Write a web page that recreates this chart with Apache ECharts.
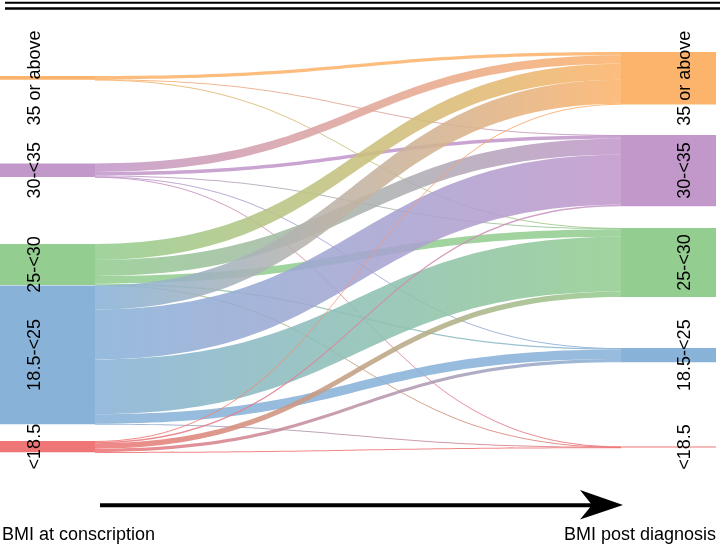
<!DOCTYPE html>
<html>
<head>
<meta charset="utf-8">
<script src="https://cdn.jsdelivr.net/npm/echarts@6/dist/echarts.min.js"></script>
<style>
  html, body { margin: 0; padding: 0; background: #fff; }
  #chart { width: 722px; height: 547px; }
</style>
</head>
<body>
<div id="chart"></div>
<script>
var groups = ['35 or above', '30-<35', '25-<30', '18.5-<25', '<18.5']
var groupColors = ['#fcb36b', '#c298cb', '#93cd90', '#88b2d8', '#ee7677']

// share of cohort (%) going from row group (conscription) to column group (post diagnosis)
var flows = [
  [1.60, 0.14, 0.10, 0, 0],
  [4.08, 1.68, 0.48, 0.19, 0.05],
  [7.68, 7.68, 3.60, 0.58, 0.14],
  [11.53, 24.02, 26.42, 4.56, 0.19],
  [0.38, 0.72, 2.64, 1.54, 0.14]
]

var axisTitles = ['BMI at conscription', 'BMI post diagnosis']

// top edge of each stratum in px, the gaps are not even in the original
var leftTops = [76, 163.5, 244, 285.5, 441]
var rightTops = [52, 135, 228, 348, 446.5]

var H = 547
var font = '"Liberation Sans", Arial, Helvetica, sans-serif'

var nodes = []
var links = []

groups.forEach(function (g, i) {
  nodes.push({
    name: 'L|' + g,
    depth: 0,
    localY: leftTops[i] / H,
    itemStyle: { color: groupColors[i] },
    label: { offset: [0, -12.5] }
  })
})
groups.forEach(function (g, i) {
  nodes.push({
    name: 'R|' + g,
    depth: 1,
    localY: rightTops[i] / H,
    itemStyle: { color: groupColors[i] },
    label: { offset: [0, 16.5] }
  })
})

flows.forEach(function (row, i) {
  row.forEach(function (v, j) {
    if (v > 0) {
      links.push({ source: 'L|' + groups[i], target: 'R|' + groups[j], value: v })
    }
  })
})

var myChart = echarts.init(document.getElementById('chart'))
var option

option = {
  animation: false,
  series: [
    {
      type: 'sankey',
      left: 0,
      right: 6,
      top: 0,
      bottom: 0,
      nodeWidth: 95,
      nodeGap: 84.7,
      layoutIterations: 0,
      draggable: false,
      emphasis: { disabled: true },
      itemStyle: { borderWidth: 0 },
      label: {
        position: 'inside',
        rotate: 90,
        color: '#000',
        fontSize: 18,
        fontFamily: font,
        formatter: function (p) { return p.name.slice(2) }
      },
      lineStyle: {
        color: 'gradient',
        opacity: 0.88,
        curveness: 0.5
      },
      data: nodes,
      links: links
    }
  ],
  graphic: [
    { type: 'line', shape: { x1: 5, y1: 2.8, x2: 720, y2: 2.8 }, style: { stroke: '#000', lineWidth: 2 } },
    { type: 'line', shape: { x1: 5, y1: 8.6, x2: 720, y2: 8.6 }, style: { stroke: '#000', lineWidth: 2.5 } },
    { type: 'rect', shape: { x: 100, y: 503.2, width: 492, height: 4 }, style: { fill: '#000' } },
    {
      type: 'polygon',
      shape: { points: [[580, 490], [623, 505], [580, 519.5], [592, 505]] },
      style: { fill: '#000' }
    },
    {
      type: 'text', x: 2, y: 535,
      style: { text: axisTitles[0], font: '18px ' + font, fill: '#000', align: 'left', verticalAlign: 'middle' }
    },
    {
      type: 'text', x: 716, y: 535,
      style: { text: axisTitles[1], font: '18px ' + font, fill: '#000', align: 'right', verticalAlign: 'middle' }
    }
  ]
}

option && myChart.setOption(option)
</script>
</body>
</html>
